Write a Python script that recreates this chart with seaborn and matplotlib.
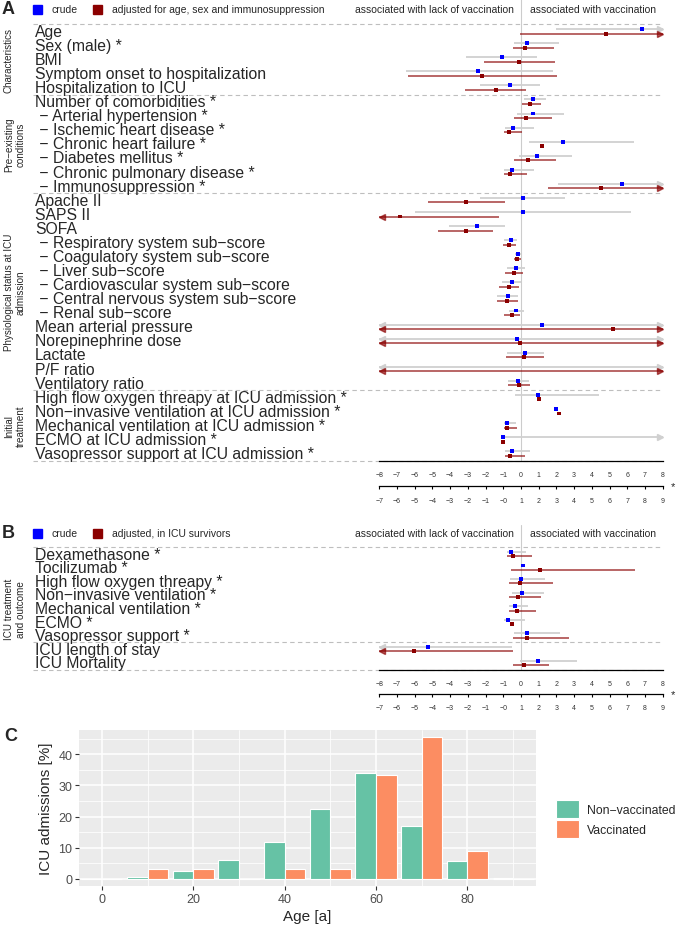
import numpy as np
import pandas as pd
import matplotlib
matplotlib.use("Agg")
import matplotlib.pyplot as plt
import matplotlib.transforms as mtransforms
from matplotlib.patches import Rectangle
from matplotlib.lines import Line2D
import seaborn as sns

nan, inf = np.nan, np.inf

# ---------------- panel A data ----------------
a_labels = [
    "Age", "Sex (male) *", "BMI", "Symptom onset to hospitalization", "Hospitalization to ICU",
    "Number of comorbidities *", " \u2212 Arterial hypertension *", " \u2212 Ischemic heart disease *",
    " \u2212 Chronic heart failure *", " \u2212 Diabetes mellitus *", " \u2212 Chronic pulmonary disease *",
    " \u2212 Immunosuppression *",
    "Apache II", "SAPS II", "SOFA", " \u2212 Respiratory system sub\u2212score",
    " \u2212 Coagulatory system sub\u2212score", " \u2212 Liver sub\u2212score",
    " \u2212 Cardiovascular system sub\u2212score", " \u2212 Central nervous system sub\u2212score",
    " \u2212 Renal sub\u2212score", "Mean arterial pressure", "Norepinephrine dose", "Lactate",
    "P/F ratio", "Ventilatory ratio",
    "High flow oxygen threapy at ICU admission *", "Non\u2212invasive ventilation at ICU admission *",
    "Mechanical ventilation at ICU admission *", "ECMO at ICU admission *",
    "Vasopressor support at ICU admission *",
]
a_crude_est = [6.82, 0.34, -1.07, -2.41, -0.62, 0.70, 0.66, -0.43, 2.39, 0.90, -0.49, 5.71,
               0.09, 0.11, -2.50, -0.58, -0.17, -0.30, -0.53, -0.73, -0.26, 1.21, -0.21, 0.23,
               nan, -0.15, 0.96, 1.96, -0.79, -1.02, -0.51]
a_crude_lo = [1.96, -0.38, -3.11, -6.48, -2.32, 0.15, -0.21, -0.89, 0.47, -0.13, -0.96, 2.11,
              -2.34, -6.01, -4.09, -0.96, -0.36, -0.79, -1.07, -1.34, -0.70, -inf, -inf, -0.81,
              -inf, -0.73, -0.36, nan, -0.96, -1.02, -0.90]
a_crude_hi = [inf, 2.13, 0.92, 1.81, 1.09, 1.39, 2.45, 0.72, 6.38, 2.88, 0.75, inf,
              2.50, 6.23, -0.92, -0.21, 0.02, 0.21, 0.02, -0.15, 0.17, inf, inf, 1.28,
              inf, 0.43, 4.43, nan, -0.28, inf, 0.51]
a_adj_est = [4.78, 0.21, -0.09, -2.22, -1.43, 0.51, 0.26, -0.66, 1.17, 0.41, -0.64, 4.50,
             -3.09, -6.82, -3.13, -0.66, -0.23, -0.40, -0.70, -0.79, -0.51, 5.22, -0.06, 0.19,
             nan, -0.13, 1.02, 2.15, -0.79, -1.02, -0.62]
a_adj_lo = [-0.08, -0.45, -2.11, -6.38, -3.16, 0.04, -0.41, -0.96, nan, -0.38, -0.98, 1.53,
            -5.27, -inf, -4.71, -1.04, -0.41, -0.89, -1.26, -1.37, -0.94, -inf, -inf, -0.87,
            -inf, -0.73, nan, nan, -0.98, nan, -0.92]
a_adj_hi = [inf, 1.88, 1.94, 2.03, 0.28, 1.15, 1.75, 0.08, nan, 2.00, 0.32, inf,
            -0.89, -1.24, -1.56, -0.26, 0.02, 0.09, -0.13, -0.19, -0.08, inf, inf, 1.28,
            inf, 0.49, nan, nan, -0.24, nan, 0.24]
a_groups = [("Characteristics", 0, 4), ("Pre\u2212existing\nconditions", 5, 11),
            ("Physiological status at ICU\nadmission", 12, 25), ("Initial\ntreatment", 26, 30)]
a_seps = [-0.5, 4.5, 11.5, 25.5, 30.5]

# ---------------- panel B data ----------------
b_labels = ["Dexamethasone *", "Tocilizumab *", "High flow oxygen threapy *",
            "Non\u2212invasive ventilation *", "Mechanical ventilation *", "ECMO *",
            "Vasopressor support *", "ICU length of stay", "ICU Mortality"]
b_crude_est = [-0.55, 0.13, -0.02, 0.06, -0.34, -0.73, 0.32, -5.25, 0.96]
b_crude_lo = [-0.81, nan, -0.62, -0.53, -0.70, -0.98, -0.41, -inf, -0.07]
b_crude_hi = [0.30, nan, 1.37, 1.32, 0.41, 0.24, 2.22, -0.49, 3.18]
b_adj_est = [-0.45, 1.09, -0.04, -0.17, -0.24, -0.51, 0.36, -6.05, 0.19]
b_adj_lo = [-0.79, -0.56, -0.70, -0.70, -0.70, nan, -0.45, -inf, -0.45]
b_adj_hi = [0.60, 6.46, 1.79, 1.13, 0.85, nan, 2.73, -0.45, 1.58]
b_groups = [("ICU treatment\nand outcome", 0, 8)]
b_seps = [-0.5, 6.5, 8.5]

axis_ticks = list(range(-8, 9))
axis2_labels = ["\u22127", "\u22126", "\u22125", "\u22124", "\u22123", "\u22122", "\u22121", "\u22120",
                "1", "2", "3", "4", "5", "6", "7", "8", "9"]

# ---------------- panel C data ----------------
c_age = [0, 10, 20, 30, 40, 50, 60, 70, 80, 90]
c_nonvacc = [0.0, 0.6, 2.5, 6.0, 11.8, 22.4, 33.9, 17.1, 5.7, 0.3]
c_vacc = [0.0, 3.03, 3.03, 0.0, 3.03, 3.03, 33.33, 45.45, 9.09, 0.0]

BLUE = "#0000FF"
DARKRED = "#8B0000"
GREY_CI = "#D0D0D0"
GREEN = "#66C2A5"
ORANGE = "#FC8D62"

sns.set_style("white")
plt.rcParams["font.family"] = ["Liberation Sans", "DejaVu Sans"]

W, H = 685, 929
fig = plt.figure(figsize=(W / 100, H / 100), dpi=100)


def box(x0, y0, x1, y1):
    return [x0 / W, 1 - y1 / H, (x1 - x0) / W, (y1 - y0) / H]


def header(y, letter, adj_text):
    fig.text(2 / W, 1 - y / H, letter, fontsize=13, fontweight="bold", ha="left", va="center")
    fig.add_artist(Rectangle((33 / W, 1 - (y + 4.5) / H), 9 / W, 9 / H, color=BLUE,
                             transform=fig.transFigure))
    fig.text(51 / W, 1 - y / H, "crude", fontsize=7.5, ha="left", va="center")
    fig.add_artist(Rectangle((93 / W, 1 - (y + 4.5) / H), 9 / W, 9 / H, color=DARKRED,
                             transform=fig.transFigure))
    fig.text(112 / W, 1 - y / H, adj_text, fontsize=7.5, ha="left", va="center")
    fig.text(514 / W, 1 - y / H, "associated with lack of vaccination", fontsize=7.5,
             ha="right", va="center")
    fig.text(530 / W, 1 - y / H, "associated with vaccination", fontsize=7.5,
             ha="left", va="center")


def forest(rect, labels, ce, cl, ch, ae, al, ah, groups, seps, line_top, axis2_px):
    ax = fig.add_axes(rect)
    n = len(labels)
    rows = np.arange(n)
    ce, cl, ch = np.array(ce), np.array(cl), np.array(ch)
    ae, al, ah = np.array(ae), np.array(al), np.array(ah)

    # zero line running up to the header
    tz = mtransforms.blended_transform_factory(ax.transData, fig.transFigure)
    ax.add_line(Line2D([0, 0], [1 - line_top / H, rect[1]], transform=tz, color="#CCCCCC",
                       lw=0.8, clip_on=False, zorder=1))

    # group separators
    tf = mtransforms.blended_transform_factory(fig.transFigure, ax.transData)
    for s in seps:
        ax.add_line(Line2D([33 / W, 663 / W], [s, s], transform=tf, color="#BEBEBE", lw=0.8,
                           ls=(0, (4, 3)), clip_on=False, zorder=1))

    # confidence intervals
    for lo, hi, yy, col, alpha in [(cl, ch, rows - 0.16, GREY_CI, 1.0),
                                   (al, ah, rows + 0.16, DARKRED, 0.65)]:
        ax.hlines(yy, np.clip(lo, -8, 8), np.clip(hi, -8, 8), color=col, lw=1.3,
                  alpha=alpha, zorder=2)
        left = np.nan_to_num(lo, nan=0) < -8
        right = np.nan_to_num(hi, nan=0) > 8
        ax.plot(np.full(left.sum(), -7.85), yy[left], ls="none", marker="<", ms=4,
                color=col, alpha=alpha, clip_on=False, zorder=2)
        ax.plot(np.full(right.sum(), 7.85), yy[right], ls="none", marker=">", ms=4,
                color=col, alpha=alpha, clip_on=False, zorder=2)

    pts = pd.DataFrame({
        "est": np.r_[ce, ae],
        "row": np.r_[rows - 0.16, rows + 0.16],
        "kind": ["crude"] * n + ["adjusted"] * n,
    })
    sns.scatterplot(data=pts, x="est", y="row", hue="kind",
                    palette={"crude": BLUE, "adjusted": DARKRED}, marker="s", s=8,
                    linewidth=0, legend=False, ax=ax, zorder=3)

    ax.set_xlim(-8, 8)
    ax.set_ylim(n - 0.5, -0.5)
    ax.set_xlabel("")
    ax.set_ylabel("")
    ax.set_yticks([])
    ax.patch.set_alpha(0)
    for s in ["top", "left", "right"]:
        ax.spines[s].set_visible(False)
    ax.spines["bottom"].set_linewidth(0.9)
    ax.spines["bottom"].set_color("black")
    ax.set_xticks(axis_ticks)
    ax.tick_params(axis="x", direction="out", length=2.5, width=0.8, labelsize=5, pad=5,
                   color="black", labelcolor="#333333")

    # second scale below
    height_px = rect[3] * H
    sec = ax.secondary_xaxis(-axis2_px / height_px)
    sec.set_xticks(axis_ticks, labels=axis2_labels)
    sec.tick_params(axis="x", direction="out", length=2.5, width=0.8, labelsize=5, pad=5,
                    color="black", labelcolor="#333333")
    sec.spines["bottom"].set_linewidth(0.9)
    sec.spines["bottom"].set_color("black")
    ybot = 1 - (H * (1 - rect[1]) + axis2_px) / H
    fig.text(673 / W, ybot, "*", fontsize=8, ha="center", va="center")

    # row labels
    for i, lab in enumerate(labels):
        ax.text(35 / W, i, lab, transform=tf, ha="left", va="center", fontsize=11.3,
                clip_on=False)
    for name, r0, r1 in groups:
        ax.text(4 / W, (r0 + r1) / 2, name, transform=tf, rotation=90, ha="left",
                va="center", ma="center", fontsize=7.1, clip_on=False)
    return ax


# ---------------- panel A ----------------
header(10, "A", "adjusted for age, sex and immunosuppression")
forest(box(379.3, 25.3, 662.7, 461.5), a_labels, a_crude_est, a_crude_lo, a_crude_hi,
       a_adj_est, a_adj_lo, a_adj_hi, a_groups, a_seps, 0, 25.8)

# ---------------- panel B ----------------
header(534, "B", "adjusted, in ICU survivors")
forest(box(379.3, 548.3, 662.7, 670.6), b_labels, b_crude_est, b_crude_lo, b_crude_hi,
       b_adj_est, b_adj_lo, b_adj_hi, b_groups, b_seps, 526, 24.4)

# ---------------- panel C ----------------
fig.text(4 / W, 1 - 737 / H, "C", fontsize=13, fontweight="bold", ha="left", va="center")
ax_c = fig.add_axes(box(79, 731, 536, 887))
dfc = pd.DataFrame({
    "age": c_age + c_age,
    "pct": c_nonvacc + c_vacc,
    "group": ["Non\u2212vaccinated"] * len(c_age) + ["Vaccinated"] * len(c_age),
})
sns.barplot(data=dfc, x="age", y="pct", hue="group", native_scale=True,
            palette=[GREEN, ORANGE], saturation=1, width=0.9, edgecolor="white",
            linewidth=0.8, ax=ax_c)
ax_c.set_facecolor("#EBEBEB")
ax_c.set_axisbelow(True)
for s in ax_c.spines.values():
    s.set_visible(False)
ax_c.set_xlim(-5, 95)
ax_c.set_ylim(-2.28, 47.8)
ax_c.set_xticks([0, 20, 40, 60, 80])
ax_c.set_xticks([10, 30, 50, 70, 90], minor=True)
ax_c.set_yticks([0, 10, 20, 30, 40])
ax_c.set_yticks([5, 15, 25, 35, 45], minor=True)
ax_c.grid(which="major", color="white", lw=1.1)
ax_c.grid(which="minor", color="white", lw=0.55)
ax_c.tick_params(which="major", length=2.75, width=0.8, color="#333333", labelcolor="#4D4D4D",
                 labelsize=9, pad=2, bottom=True, left=True)
ax_c.tick_params(which="minor", length=0)
ax_c.set_xlabel("Age [a]", fontsize=11, labelpad=3)
ax_c.set_ylabel("ICU admissions [%]", fontsize=11, labelpad=4)
handles, labels = ax_c.get_legend_handles_labels()
ax_c.legend(handles, labels, loc="center left", bbox_to_anchor=(556 / W, 1 - 820 / H),
            bbox_transform=fig.transFigure, frameon=False, fontsize=8.8, handlelength=1.9,
            handleheight=1.9, labelspacing=0.1, handletextpad=0.6, borderaxespad=0,
            borderpad=0)

fig.savefig("out.png", dpi=100)
